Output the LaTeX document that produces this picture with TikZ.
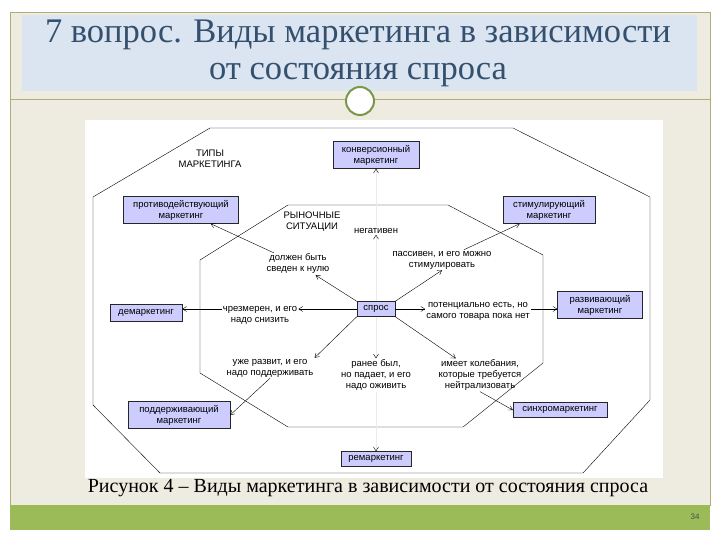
\documentclass[tikz,border=0pt]{standalone}
\usepackage{fontspec}
\setmainfont{Liberation Serif}
\newfontfamily\diagfont{Liberation Sans}
\usetikzlibrary{arrows.meta, positioning}

\definecolor{slidebg}{RGB}{238,236,225}
\definecolor{titleband}{RGB}{219,229,241}
\definecolor{titletext}{RGB}{52,80,110}
\definecolor{greenband}{RGB}{155,187,89}
\definecolor{ruleline}{RGB}{180,172,120}
\definecolor{boxfill}{RGB}{204,204,255}

\tikzset{
  mbox/.style={draw=black!85, fill=boxfill, inner sep=2pt, align=center,
    font=\diagfont\fontsize{9.5}{11}\selectfont},
  sit/.style={inner sep=1pt, align=center, font=\diagfont\fontsize{9.5}{11}\selectfont},
  link/.style={-{Straight Barb[length=4pt, width=5pt]}, thin},
  faint/.style={-{Straight Barb[length=4pt, width=5pt, color=black]}, draw=black!8},
  wall/.style={thin}
}

\begin{document}
\begin{tikzpicture}[x=1pt, y=-1pt]
\useasboundingbox (0,0) rectangle (720,540);
\fill[white] (0,0) rectangle (720,540);

% slide
\fill[slidebg] (10,12) rectangle (710,505);
\draw[ruleline] (10,12) rectangle (710,505);
\fill[titleband] (22,15) rectangle (697,91);
\fill[greenband] (10,505) rectangle (710,530);
\draw[ruleline, line width=1pt] (10,100) -- (710,100);
\node (ring) at (360,101) [circle, draw=greenband!80!black, line width=2pt, fill=white, minimum size=28pt] {};
\node (title) at (358,53) [align=center, text=titletext, font=\fontsize{34.5}{37}\selectfont]
  {7 вопрос. Виды маркетинга в зависимости\\от состояния спроса};

% figure
\fill[white] (85,120) rectangle (663,478);
\draw[wall] (210,128) -- (513,128) -- (650,197) -- (650,400) -- (583,473) -- (160,473) -- (93,405) -- (93,197) -- cycle;
\draw[wall] (288,205) -- (448,205) -- (543,255) -- (543,363) -- (463,427) -- (288,427) -- (200,373) -- (200,260) -- cycle;

\node (types) at (210,159) [sit] {ТИПЫ\\МАРКЕТИНГА};
\node (market) at (312,222) [sit] {РЫНОЧНЫЕ\\СИТУАЦИИ};

% types of marketing
\node (konv) at (376,155) [mbox, minimum width=86pt, minimum height=27pt] {конверсионный\\маркетинг};
\node (protiv) at (181,210) [mbox, minimum width=115pt, minimum height=27pt] {противодействующий\\маркетинг};
\node (stimul) at (549,210) [mbox, minimum width=92pt, minimum height=27pt] {стимулирующий\\маркетинг};
\node (demark) at (146,313) [mbox, minimum width=72pt, minimum height=17pt] {демаркетинг};
\node (razviv) at (600,305) [mbox, minimum width=85pt, minimum height=27pt] {развивающий\\маркетинг};
\node (podderzh) at (179,415) [mbox, minimum width=102pt, minimum height=27pt] {поддерживающий\\маркетинг};
\node (sinhro) at (560,410) [mbox, minimum width=94pt, minimum height=15pt] {синхромаркетинг};
\node (remark) at (376,459) [mbox, minimum width=70pt, minimum height=15pt] {ремаркетинг};
\node (spros) at (376,309) [mbox, minimum width=38pt, minimum height=15pt] {спрос};

% market situations
\node (negativ) at (376,231) [sit] {негативен};
\node (dolzhen) at (298,264) [sit] {должен быть\\сведен к нулю};
\node (passiv) at (442,260) [sit] {пассивен, и его можно\\стимулировать};
\node (chrezm) at (260,315) [sit] {чрезмерен, и его\\надо снизить};
\node (potenc) at (478,311) [sit] {потенциально есть, но\\самого товара пока нет};
\node (uzhe) at (270,368) [sit] {уже развит, и его\\надо поддерживать};
\node (ranee) at (376,375) [sit] {ранее был,\\но падает, и его\\надо оживить};
\node (imeet) at (480,375) [sit] {имеет колебания,\\которые требуется\\нейтрализовать};

\draw[faint] (spros) -- (negativ);
\draw[faint] (negativ) -- (konv);
\draw[link] (spros.north west) -- (dolzhen);
\draw[link] (dolzhen) -- (protiv);
\draw[link] (spros.north east) -- (passiv.south);
\draw[link] (passiv) -- (stimul);
\draw[link] (spros) -- (chrezm.east |- spros);
\draw[link] (chrezm.west |- spros) -- (demark.east |- spros);
\draw[link] (spros) -- (potenc.west |- spros);
\draw[link] (potenc.east |- spros) -- (razviv.west |- spros);
\draw[link] (spros.south west) -- (uzhe.north east);
\draw[link] (uzhe.south) -- (podderzh.east);
\draw[faint] (spros) -- (ranee);
\draw[faint] (ranee) -- (remark);
\draw[link] (spros.south east) -- (imeet);
\draw[link] (imeet.south) -- (sinhro.west);

\node (caption) at (368,488) [font=\fontsize{20}{24}\selectfont]
  {Рисунок 4 – Виды маркетинга в зависимости от состояния спроса};
\node (page) at (695,517) [font=\diagfont\fontsize{8}{10}\selectfont, text=black!70] {34};
\end{tikzpicture}
\end{document}
